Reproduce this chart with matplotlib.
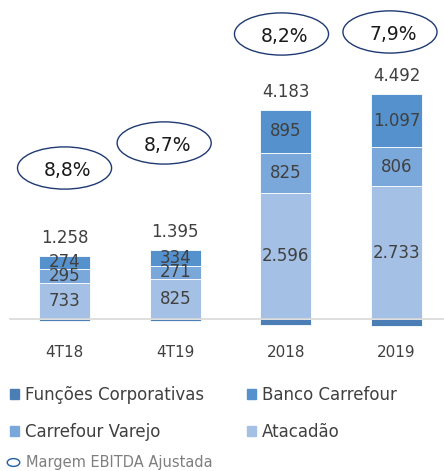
import numpy as np
import matplotlib
matplotlib.use("Agg")
import matplotlib.pyplot as plt
from matplotlib.patches import Ellipse, Patch
from matplotlib.lines import Line2D
from matplotlib.path import Path

plt.rcParams['font.family'] = ['DejaVu Sans']

# data (R$ milhões)
periods = ['4T18', '4T19', '2018', '2019']
atacadao = np.array([733, 825, 2596, 2733])
varejo = np.array([295, 271, 825, 806])
banco = np.array([274, 334, 895, 1097])
corporativas = np.array([-44, -35, -133, -144])
totals = ['1.258', '1.395', '4.183', '4.492']
margem = ['8,8%', '8,7%', '8,2%', '7,9%']
lbl_atacadao = ['733', '825', '2.596', '2.733']
lbl_varejo = ['295', '271', '825', '806']
lbl_banco = ['274', '334', '895', '1.097']

c_corp = '#4a7eb4'
c_banco = '#5591cc'
c_varejo = '#7ba8da'
c_atac = '#a4c0e4'
txt = '#404040'

fig = plt.figure(figsize=(4.44, 4.71), dpi=100)
ax = fig.add_axes([0, 131 / 471, 1, 340 / 471])

x = np.arange(len(periods))
w = 0.46
ax.bar(x, corporativas, w, color=c_corp, edgecolor='white', linewidth=0.6, zorder=3)
ax.bar(x, atacadao, w, color=c_atac, edgecolor='white', linewidth=0.6, zorder=3)
ax.bar(x, varejo, w, bottom=atacadao, color=c_varejo, edgecolor='white', linewidth=0.6, zorder=3)
ax.bar(x, banco, w, bottom=atacadao + varejo, color=c_banco, edgecolor='white', linewidth=0.6, zorder=3)
ax.axhline(0, color='#d9d9d9', linewidth=1.2, xmin=10 / 444, zorder=4)

ax.set_xlim(-0.583, 3.428)
ax.set_ylim(-433, 6577)
ax.axis('off')

tops = atacadao + varejo + banco
for i in range(len(x)):
    ax.text(x[i], atacadao[i] / 2, lbl_atacadao[i], ha='center', va='center',
            fontsize=12, color=txt, zorder=5)
    ax.text(x[i], atacadao[i] + varejo[i] / 2, lbl_varejo[i], ha='center', va='center',
            fontsize=12, color=txt, zorder=5)
    ax.text(x[i], atacadao[i] + varejo[i] + banco[i] / 2, lbl_banco[i], ha='center',
            va='center', fontsize=12, color=txt, zorder=5)
    ax.text(x[i], tops[i] + 370, totals[i], ha='center', va='center',
            fontsize=12, color=txt, zorder=5)
    ax.text(x[i], -700, periods[i], ha='center', va='center', fontsize=11,
            color=txt, clip_on=False)

# margem ellipses
ell_dx = [0.0, -0.1, -0.04, -0.06]
ell_y = [3113, 3629, 5876, 5918]
for i in range(len(x)):
    e = Ellipse((x[i] + ell_dx[i], ell_y[i]), 0.85, 870, facecolor='white',
                edgecolor='#1f3a73', linewidth=1.0, zorder=5)
    ax.add_patch(e)
    ax.text(x[i] + ell_dx[i] + 0.03, ell_y[i] - 60, margem[i], ha='center', va='center',
            fontsize=13.5, color='#1a1a1a', zorder=6)

handles = [Patch(color=c_corp), Patch(color=c_varejo), Patch(color=c_banco), Patch(color=c_atac)]
names = ['Funções Corporativas', 'Carrefour Varejo', 'Banco Carrefour', 'Atacadão']
fig.legend(handles, names, ncol=2, loc='upper left', bbox_to_anchor=(-0.012, 0.212),
           frameon=False, fontsize=12, handlelength=0.55, handleheight=0.55,
           handletextpad=0.35, columnspacing=2.6, labelspacing=1.15, labelcolor=txt)

circ = Path.unit_circle()
oval = Path(circ.vertices * [1.6, 1.0], circ.codes)
h2 = Line2D([], [], marker=oval, markersize=9, markerfacecolor='white',
            markeredgecolor='#1f5fa8', markeredgewidth=1.0, linestyle='none')
fig.legend([h2], ['Margem EBITDA Ajustada'], loc='lower left', bbox_to_anchor=(-0.02, -0.025),
           frameon=False, fontsize=10.5, handlelength=1.2, handletextpad=0.3,
           labelcolor='#7f7f7f')

fig.savefig('out.png', dpi=100)
